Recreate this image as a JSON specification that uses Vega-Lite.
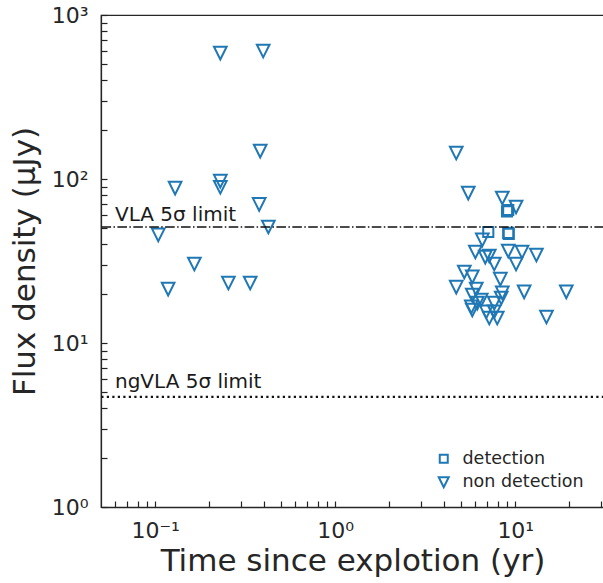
{
  "$schema": "https://vega.github.io/schema/vega-lite/v6.json",
  "width": 503,
  "height": 492,
  "autosize": {"type": "none"},
  "padding": {"left": 101, "top": 15, "right": 0, "bottom": 76},
  "background": "white",
  "config": {
    "font": "DejaVu Sans",
    "view": {"stroke": "#262626", "strokeWidth": 1.25},
    "axis": {"domainColor": "#262626", "domainWidth": 1.25, "labelColor": "#262626", "titleColor": "#262626", "grid": false, "labelFont": "DejaVu Sans", "titleFont": "DejaVu Sans", "titleFontWeight": "normal", "zindex": 1}
  },
  "layer": [
    {
      "data": {"values": [
        {"t": 0.230, "f": 586, "type": "non detection"},
        {"t": 0.398, "f": 603, "type": "non detection"},
        {"t": 0.383, "f": 148, "type": "non detection"},
        {"t": 0.129, "f": 88, "type": "non detection"},
        {"t": 0.230, "f": 97, "type": "non detection"},
        {"t": 0.230, "f": 89, "type": "non detection"},
        {"t": 0.378, "f": 70, "type": "non detection"},
        {"t": 0.104, "f": 45.6, "type": "non detection"},
        {"t": 0.425, "f": 51, "type": "non detection"},
        {"t": 0.165, "f": 30.3, "type": "non detection"},
        {"t": 0.118, "f": 21.3, "type": "non detection"},
        {"t": 0.255, "f": 23.2, "type": "non detection"},
        {"t": 0.337, "f": 23.2, "type": "non detection"},
        {"t": 4.70, "f": 144, "type": "non detection"},
        {"t": 5.48, "f": 82, "type": "non detection"},
        {"t": 8.47, "f": 76.6, "type": "non detection"},
        {"t": 10.1, "f": 67.5, "type": "non detection"},
        {"t": 6.56, "f": 42.5, "type": "non detection"},
        {"t": 6.0, "f": 35.9, "type": "non detection"},
        {"t": 6.81, "f": 33.4, "type": "non detection"},
        {"t": 7.17, "f": 33.9, "type": "non detection"},
        {"t": 7.64, "f": 30.3, "type": "non detection"},
        {"t": 9.14, "f": 36.4, "type": "non detection"},
        {"t": 10.9, "f": 35.9, "type": "non detection"},
        {"t": 10.1, "f": 30.3, "type": "non detection"},
        {"t": 13.1, "f": 34.4, "type": "non detection"},
        {"t": 5.21, "f": 27.1, "type": "non detection"},
        {"t": 5.77, "f": 25.3, "type": "non detection"},
        {"t": 8.26, "f": 24.5, "type": "non detection"},
        {"t": 4.70, "f": 21.9, "type": "non detection"},
        {"t": 6.07, "f": 21.3, "type": "non detection"},
        {"t": 5.77, "f": 19.6, "type": "non detection"},
        {"t": 8.47, "f": 20.2, "type": "non detection"},
        {"t": 11.2, "f": 20.5, "type": "non detection"},
        {"t": 19.2, "f": 20.5, "type": "non detection"},
        {"t": 6.47, "f": 18.3, "type": "non detection"},
        {"t": 8.36, "f": 18.8, "type": "non detection"},
        {"t": 5.70, "f": 16.6, "type": "non detection"},
        {"t": 6.15, "f": 17.5, "type": "non detection"},
        {"t": 7.64, "f": 17.5, "type": "non detection"},
        {"t": 5.77, "f": 15.9, "type": "non detection"},
        {"t": 6.90, "f": 15.5, "type": "non detection"},
        {"t": 7.64, "f": 15.5, "type": "non detection"},
        {"t": 7.17, "f": 14.2, "type": "non detection"},
        {"t": 7.94, "f": 14.2, "type": "non detection"},
        {"t": 14.9, "f": 14.4, "type": "non detection"},
        {"t": 9.14, "f": 64.7, "type": "detection"},
        {"t": 9.0, "f": 63.5, "type": "detection"},
        {"t": 7.08, "f": 47.5, "type": "detection"},
        {"t": 9.14, "f": 46.9, "type": "detection"},
        {"t": 9.2, "f": 46.3, "type": "detection"}
      ]},
      "mark": {"type": "point", "filled": false, "strokeWidth": 2, "opacity": 1, "size": 160},
      "encoding": {
        "x": {
          "field": "t", "type": "quantitative",
          "scale": {"type": "log", "domain": [0.05, 31.1], "nice": false},
          "axis": {
            "title": "Time since explotion (yr)", "titleFontSize": 31, "titlePadding": 5,
            "values": [0.06, 0.07, 0.08, 0.09, 0.1, 0.2, 0.3, 0.4, 0.5, 0.6, 0.7, 0.8, 0.9, 1, 2, 3, 4, 5, 6, 7, 8, 9, 10, 20, 30],
            "labelExpr": "datum.value == 0.1 ? '10⁻¹' : datum.value == 1 ? '10⁰' : datum.value == 10 ? '10¹' : ''",
            "labelFontSize": 22, "labelPadding": 19, "labelFlush": false, "labelOverlap": false,
            "ticks": true, "tickSize": -6, "tickColor": "#222222", "tickWidth": 1.2, "tickOpacity": 1, "tickDash": []
          }
        },
        "y": {
          "field": "f", "type": "quantitative",
          "scale": {"type": "log", "domain": [1, 1000], "nice": false},
          "axis": {
            "title": "Flux density (μJy)", "titleFontSize": 31, "titlePadding": 10,
            "values": [1, 2, 3, 4, 5, 6, 7, 8, 9, 10, 20, 30, 40, 50, 60, 70, 80, 90, 100, 200, 300, 400, 500, 600, 700, 800, 900, 1000],
            "labelExpr": "datum.value == 1 ? '10⁰' : datum.value == 10 ? '10¹' : datum.value == 100 ? '10²' : datum.value == 1000 ? '10³' : ''",
            "labelFontSize": 22, "labelPadding": 19, "labelFlush": false, "labelOverlap": false,
            "ticks": true, "tickSize": -6, "tickColor": "#222222", "tickWidth": 1.2, "tickOpacity": 1, "tickDash": []
          }
        },
        "shape": {
          "field": "type", "type": "nominal",
          "scale": {"domain": ["detection", "non detection"], "range": ["M-0.8,-0.8L0.8,-0.8L0.8,0.8L-0.8,0.8Z", "M-1,-1L1,-1L0,1Z"]},
          "legend": {
            "title": null, "orient": "none", "legendX": 334, "legendY": 435,
            "labelFontSize": 17.5, "labelColor": "#262626", "symbolSize": 100,
            "symbolStrokeColor": "#1f77b4", "symbolStrokeWidth": 2, "symbolFillColor": "transparent",
            "rowPadding": 4.5, "padding": 0, "labelOffset": 10
          }
        },
        "color": {"value": "#1f77b4"}
      }
    },
    {
      "data": {"values": [{"k": 1}]},
      "mark": {"type": "rule", "color": "#111111", "strokeWidth": 1.5, "strokeDash": [9.6, 2.4, 1.5, 2.4]},
      "encoding": {"y": {"datum": 51}}
    },
    {
      "data": {"values": [{"k": 2}]},
      "mark": {"type": "rule", "color": "#111111", "strokeWidth": 2.2, "strokeDash": [2.2, 3.3]},
      "encoding": {"y": {"datum": 4.7}}
    },
    {
      "data": {"values": [{"k": 3}]},
      "mark": {"type": "text", "text": "VLA 5σ limit", "align": "left", "baseline": "alphabetic", "fontSize": 20, "color": "#1a1a1a"},
      "encoding": {"x": {"datum": 0.0598}, "y": {"datum": 55.5}}
    },
    {
      "data": {"values": [{"k": 4}]},
      "mark": {"type": "text", "text": "ngVLA 5σ limit", "align": "left", "baseline": "alphabetic", "fontSize": 20, "color": "#1a1a1a"},
      "encoding": {"x": {"datum": 0.0598}, "y": {"datum": 5.32}}
    }
  ]
}
